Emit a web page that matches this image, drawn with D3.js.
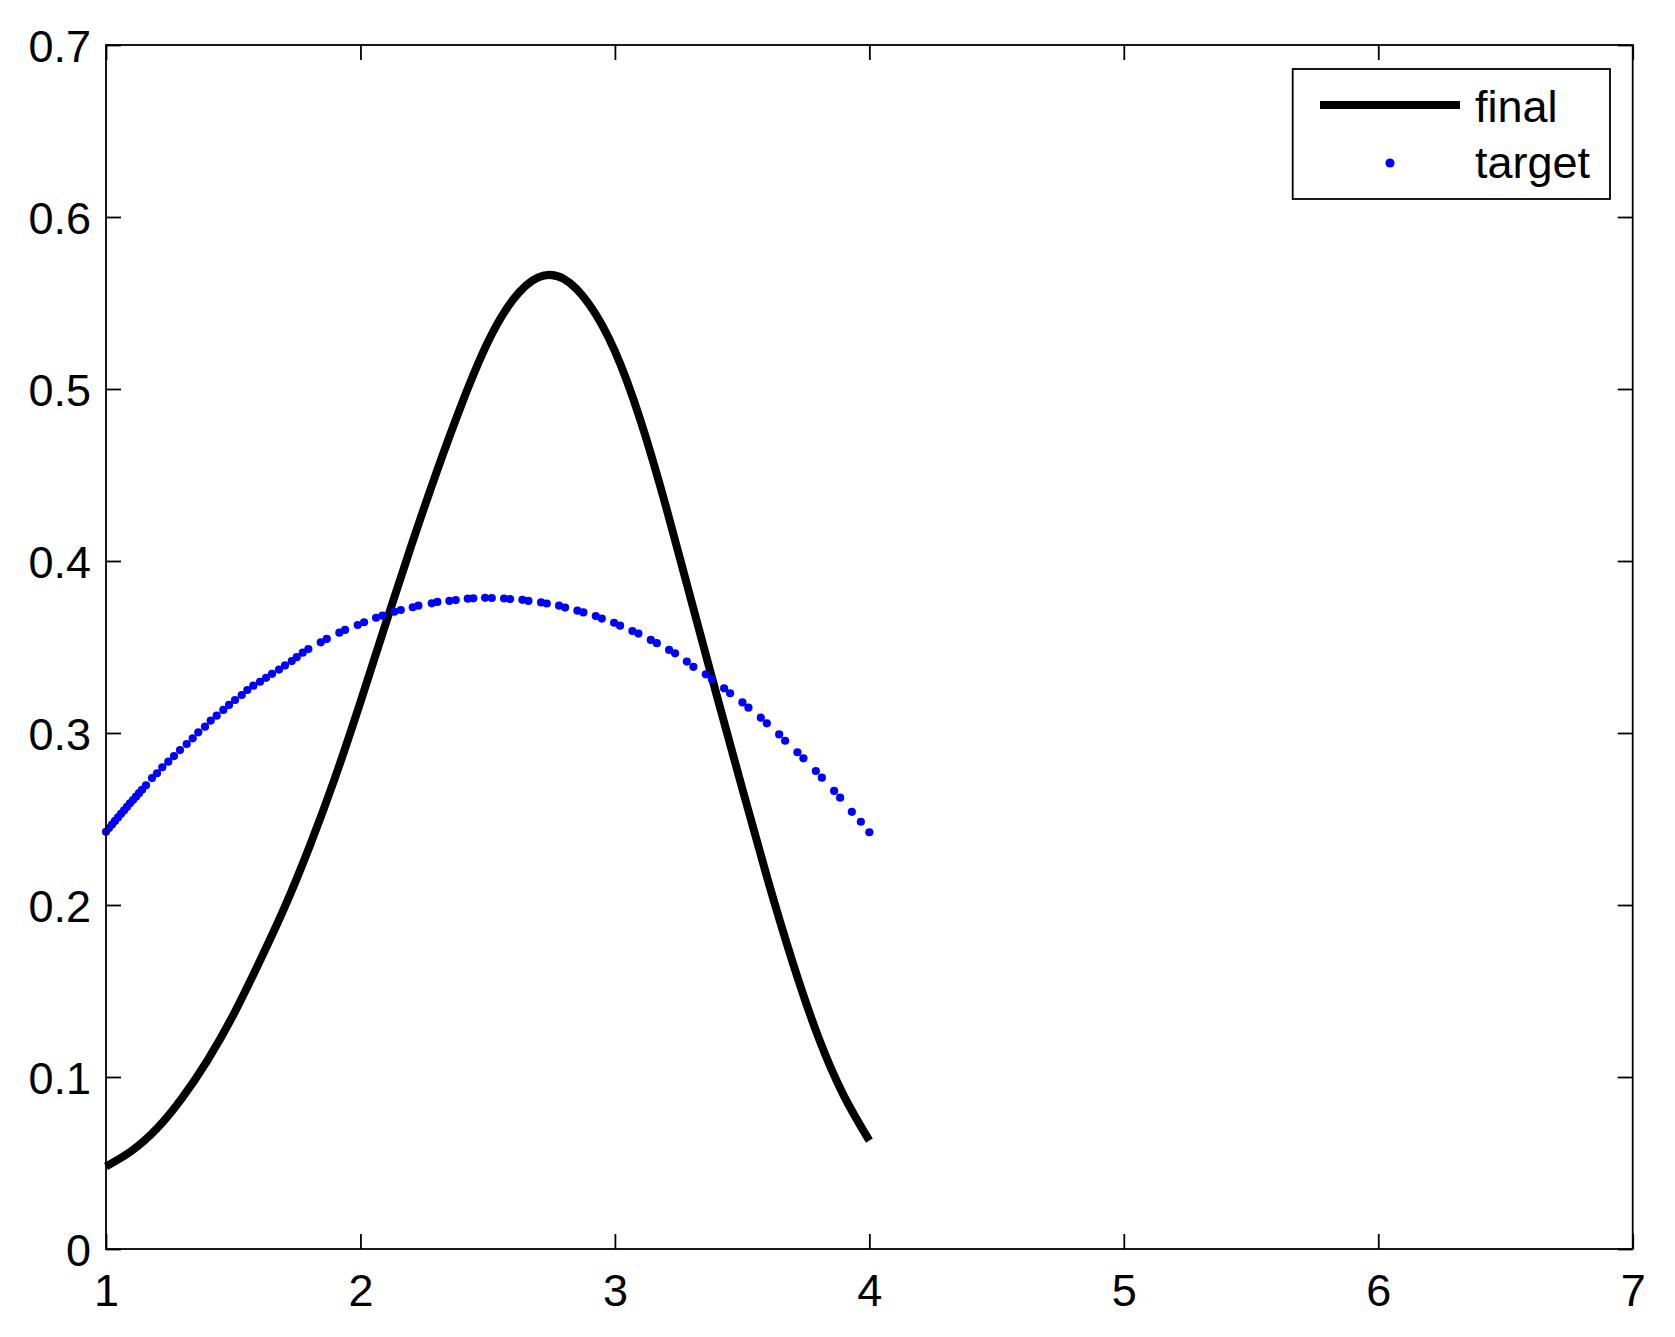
<!DOCTYPE html>
<html>
<head>
<meta charset="utf-8">
<script src="https://cdn.jsdelivr.net/npm/d3@7"></script>
<style>
  html, body { margin: 0; padding: 0; background: #ffffff; }
  svg { display: block; }
  text { font-family: "Liberation Sans", Arial, Helvetica, sans-serif; }
</style>
</head>
<body>
<svg id="chart" width="1675" height="1337"></svg>
<script>
// ---------- data ----------
const xTicks = [1, 2, 3, 4, 5, 6, 7];
const xTickLabels = ["1", "2", "3", "4", "5", "6", "7"];
const yTicks = [0, 0.1, 0.2, 0.3, 0.4, 0.5, 0.6, 0.7];
const yTickLabels = ["0", "0.1", "0.2", "0.3", "0.4", "0.5", "0.6", "0.7"];
const seriesNames = ["final", "target"];

const finalX = [1.0, 1.1, 1.2, 1.3, 1.4, 1.5, 1.6, 1.7, 1.8, 1.9, 2.0, 2.1, 2.2, 2.3, 2.4, 2.5,
                2.6, 2.7, 2.8, 2.9, 3.0, 3.1, 3.2, 3.3, 3.4, 3.5, 3.6, 3.7, 3.8, 3.9, 4.0];
const finalY = [0.048, 0.057, 0.070, 0.088, 0.110, 0.136, 0.166, 0.198, 0.234, 0.274, 0.318, 0.364,
                0.409, 0.452, 0.492, 0.527, 0.552, 0.565, 0.564, 0.549, 0.522,
                0.482, 0.432, 0.377, 0.322, 0.268, 0.215, 0.166, 0.123, 0.089, 0.063];

const targetX = [1.000, 1.0118, 1.0236, 1.0354, 1.0472, 1.0590, 1.0708, 1.0825, 1.0943, 1.1061,
                 1.1179, 1.1297, 1.1415, 1.1572, 1.1808, 1.2005, 1.2213, 1.2449, 1.2673, 1.2909,
                 1.3172, 1.3408, 1.3628, 1.3892, 1.4116, 1.4351, 1.4611, 1.4835, 1.5071, 1.5334,
                 1.5554, 1.5790, 1.6053, 1.6289, 1.6525, 1.6800, 1.7036, 1.7300, 1.7496, 1.7732,
                 1.7952, 1.8440, 1.8676, 1.9171, 1.9395, 1.9894, 2.0142, 2.0613, 2.0861, 2.1333,
                 2.1584, 2.2056, 2.2276, 2.2803, 2.3023, 2.3495, 2.3746, 2.4218, 2.4438, 2.4898,
                 2.5161, 2.5645, 2.5881, 2.6364, 2.6600, 2.7099, 2.7323, 2.7807, 2.8042, 2.8526,
                 2.8762, 2.9249, 2.9485, 2.9969, 3.0204, 3.0688, 3.0924, 3.1411, 3.1647, 3.2130,
                 3.2366, 3.2826, 3.3085, 3.3573, 3.3809, 3.4292, 3.4528, 3.5012, 3.5247, 3.5735,
                 3.5971, 3.6455, 3.6690, 3.7174, 3.7410, 3.7897, 3.8133, 3.8616, 3.8852, 3.9312,
                 3.9666, 4.000];
const targetY = [0.2426, 0.2447, 0.2468, 0.2489, 0.2509, 0.2530, 0.2550, 0.2570, 0.2591, 0.2610,
                 0.2630, 0.2650, 0.2670, 0.2696, 0.2738, 0.2766, 0.2801, 0.2833, 0.2866, 0.2901,
                 0.2936, 0.2969, 0.3004, 0.3037, 0.3072, 0.3101, 0.3134, 0.3163, 0.3192, 0.3221,
                 0.3250, 0.3275, 0.3298, 0.3321, 0.3344, 0.3369, 0.3393, 0.3418, 0.3441, 0.3467,
                 0.3488, 0.3527, 0.3547, 0.3583, 0.3599, 0.3628, 0.3644, 0.3670, 0.3682, 0.3705,
                 0.3715, 0.3731, 0.3740, 0.3754, 0.3762, 0.3768, 0.3773, 0.3781, 0.3783, 0.3786,
                 0.3785, 0.3782, 0.3779, 0.3774, 0.3768, 0.3759, 0.3753, 0.3740, 0.3729, 0.3711,
                 0.3701, 0.3680, 0.3665, 0.3641, 0.3624, 0.3593, 0.3578, 0.3541, 0.3522, 0.3483,
                 0.3463, 0.3415, 0.3385, 0.3341, 0.3314, 0.3260, 0.3231, 0.3178, 0.3147, 0.3089,
                 0.3056, 0.2992, 0.2955, 0.2888, 0.2853, 0.2779, 0.2740, 0.2663, 0.2624, 0.2542,
                 0.2484, 0.2423];

// ---------- layout ----------
const W = 1675, H = 1337;
const margin = { left: 106, top: 45, right: 42.3, bottom: 88 };
const iw = W - margin.left - margin.right;
const ih = H - margin.top - margin.bottom;
const fontSize = 45;
const tickLen = 15;

const svg = d3.select("#chart");
svg.append("rect").attr("width", W).attr("height", H).attr("fill", "#ffffff");

const g = svg.append("g").attr("transform", `translate(${margin.left},${margin.top})`);

const x = d3.scaleLinear().domain([1, 7]).range([0, iw]);
const y = d3.scaleLinear().domain([0, 0.7]).range([ih, 0]);

// ---------- series ----------
const finalData = finalX.map((d, i) => [d, finalY[i]]);
const targetData = targetX.map((d, i) => [d, targetY[i]]);

const line = d3.line()
  .x(d => x(d[0]))
  .y(d => y(d[1]))
  .curve(d3.curveNatural);

g.append("path")
  .datum(finalData)
  .attr("d", line)
  .attr("fill", "none")
  .attr("stroke", "#000000")
  .attr("stroke-width", 8)
  .attr("stroke-linejoin", "round")
  .attr("stroke-linecap", "butt");

g.append("g").selectAll("circle")
  .data(targetData)
  .join("circle")
  .attr("cx", d => x(d[0]))
  .attr("cy", d => y(d[1]))
  .attr("r", 4.1)
  .attr("fill", "#0000ff");

// ---------- axes ----------
const styleAxis = sel => {
  sel.select(".domain").remove();
  sel.selectAll(".tick line").attr("stroke", "#000").attr("stroke-width", 1.8);
  sel.selectAll(".tick text").attr("font-size", fontSize).attr("fill", "#000")
     .attr("font-family", '"Liberation Sans", Arial, Helvetica, sans-serif');
};

const xAxis = d3.axisBottom(x).tickValues(xTicks)
  .tickFormat((d, i) => xTickLabels[i])
  .tickSizeInner(-tickLen).tickSizeOuter(0).tickPadding(25);
g.append("g").attr("transform", `translate(0,${ih})`).call(xAxis).call(styleAxis);

const xAxisTop = d3.axisTop(x).tickValues(xTicks).tickFormat("")
  .tickSizeInner(-tickLen).tickSizeOuter(0);
g.append("g").call(xAxisTop).call(styleAxis);

const yAxis = d3.axisLeft(y).tickValues(yTicks)
  .tickFormat((d, i) => yTickLabels[i])
  .tickSizeInner(-tickLen).tickSizeOuter(0).tickPadding(15);
const yAxisG = g.append("g").call(yAxis).call(styleAxis);
yAxisG.selectAll(".tick text").attr("dy", "0.36em");

const yAxisRight = d3.axisRight(y).tickValues(yTicks).tickFormat("")
  .tickSizeInner(-tickLen).tickSizeOuter(0);
g.append("g").attr("transform", `translate(${iw},0)`).call(yAxisRight).call(styleAxis);

// plot box
g.append("rect")
  .attr("x", 0).attr("y", 0).attr("width", iw).attr("height", ih)
  .attr("fill", "none").attr("stroke", "#000").attr("stroke-width", 1.8);

// ---------- legend ----------
const lg = svg.append("g");
lg.append("rect")
  .attr("x", 1292.7).attr("y", 69).attr("width", 317.3).attr("height", 130)
  .attr("fill", "#ffffff").attr("stroke", "#000").attr("stroke-width", 1.8);
lg.append("line")
  .attr("x1", 1320).attr("x2", 1460).attr("y1", 105).attr("y2", 105)
  .attr("stroke", "#000").attr("stroke-width", 8);
lg.append("circle").attr("cx", 1390).attr("cy", 163).attr("r", 4.6).attr("fill", "#0000ff");
lg.selectAll("text.lab")
  .data(seriesNames)
  .join("text")
  .attr("class", "lab")
  .attr("x", 1475)
  .attr("y", (d, i) => 121.5 + i * 56.6)
  .attr("font-size", fontSize)
  .attr("fill", "#000")
  .text(d => d);
</script>
</body>
</html>
